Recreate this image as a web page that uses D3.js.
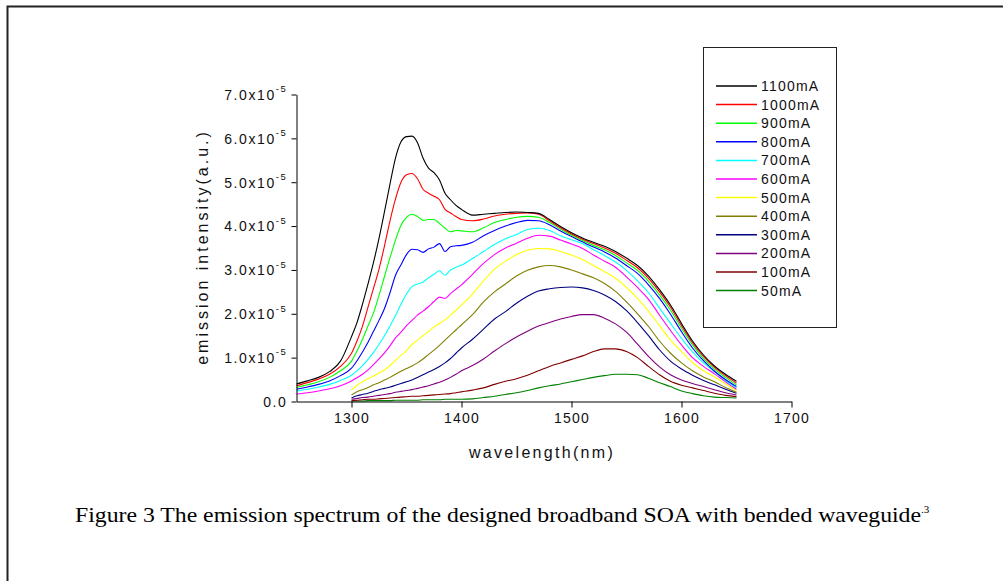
<!DOCTYPE html>
<html><head><meta charset="utf-8">
<script src="https://cdn.jsdelivr.net/npm/d3@7"></script>
<style>body{margin:0;background:#fff}svg{display:block}</style>
</head><body><svg id="c" width="1003" height="581"></svg>
<script>
// wavelength grid (nm)
const wavelengths = [1250,1260,1270,1280,1290,
 1300,1305,1310,1315,1320,1325,1330,1335,1340,1345,1350,1355,1360,1365,1370,1375,1380,1385,1390,1395,1400,
 1410,1420,1430,1440,1450,1460,1470,1480,1490,1500,1510,1520,1530,1540,1550,1560,1570,1580,1590,1600,1610,1620,1630,1640,1650];
const UNIT = 1e-5; // values below are in units of 1e-5 a.u.
const currents = ["1100mA","1000mA","900mA","800mA","700mA","600mA","500mA","400mA","300mA","200mA","100mA","50mA"];
const colors = ["#000000","#ff0000","#00ff00","#0000ff","#00ffff","#ff00ff","#ffff00","#808000","#000080","#800080","#800000","#008000"];
const yTicks = [0,1,2,3,4,5,6,7];
const xTicks = [1300,1400,1500,1600,1700];

const s1100 = [0.40,0.47,0.55,0.68,0.92,
 1.48,1.80,2.22,2.68,3.17,3.72,4.33,4.96,5.55,5.92,6.04,6.05,5.90,5.55,5.32,5.22,5.05,4.75,4.60,4.47,4.38,
 4.25,4.27,4.29,4.31,4.32,4.31,4.29,4.15,3.99,3.85,3.73,3.63,3.54,3.42,3.27,3.10,2.86,2.55,2.20,1.78,1.38,1.06,0.81,0.62,0.46];
const s1000 = [0.36,0.43,0.51,0.62,0.80,
 1.10,1.38,1.72,2.15,2.58,3.02,3.55,4.12,4.62,5.00,5.17,5.20,5.08,4.84,4.75,4.68,4.60,4.38,4.30,4.22,4.15,
 4.12,4.16,4.23,4.27,4.29,4.30,4.27,4.12,3.96,3.82,3.70,3.60,3.50,3.38,3.22,3.05,2.81,2.50,2.15,1.73,1.34,1.03,0.78,0.59,0.42];
const s900 = [0.32,0.38,0.45,0.55,0.70,
 0.92,1.15,1.42,1.72,2.02,2.42,2.85,3.28,3.68,4.02,4.20,4.27,4.22,4.13,4.15,4.15,4.06,3.95,3.87,3.90,3.89,
 3.87,3.96,4.08,4.15,4.20,4.22,4.20,4.08,3.93,3.79,3.67,3.56,3.46,3.33,3.16,2.99,2.74,2.43,2.08,1.67,1.29,0.98,0.74,0.55,0.38];
const s800 = [0.28,0.33,0.39,0.47,0.59,
 0.76,0.93,1.13,1.35,1.60,1.85,2.12,2.48,2.88,3.12,3.35,3.47,3.46,3.40,3.48,3.52,3.60,3.42,3.53,3.55,3.56,
 3.63,3.78,3.90,4.00,4.08,4.13,4.12,4.03,3.89,3.76,3.64,3.52,3.41,3.27,3.10,2.92,2.66,2.35,1.99,1.59,1.22,0.93,0.69,0.50,0.34];
const s700 = [0.24,0.28,0.33,0.39,0.48,
 0.60,0.70,0.82,0.96,1.12,1.30,1.50,1.72,1.96,2.22,2.45,2.62,2.68,2.72,2.82,2.90,2.98,2.88,3.00,3.06,3.11,
 3.26,3.42,3.58,3.71,3.81,3.92,3.95,3.90,3.78,3.69,3.60,3.46,3.33,3.18,2.99,2.75,2.48,2.13,1.78,1.44,1.13,0.88,0.68,0.48,0.31];
const s600 = [0.17,0.20,0.24,0.29,0.36,
 0.47,0.54,0.62,0.72,0.84,0.97,1.11,1.27,1.45,1.58,1.73,1.85,1.97,2.06,2.16,2.28,2.38,2.35,2.46,2.56,2.66,
 2.90,3.15,3.35,3.50,3.61,3.72,3.79,3.77,3.68,3.59,3.49,3.34,3.20,3.06,2.84,2.60,2.33,1.97,1.62,1.29,1.00,0.80,0.63,0.45,0.28];
const s500 = [null,null,null,null,null,
 0.26,0.37,0.45,0.52,0.58,0.65,0.72,0.82,0.94,1.05,1.16,1.30,1.40,1.50,1.60,1.70,1.78,1.86,1.97,2.08,2.20,
 2.45,2.75,3.02,3.20,3.35,3.45,3.49,3.48,3.42,3.34,3.24,3.10,2.96,2.81,2.60,2.35,2.06,1.73,1.40,1.14,0.89,0.70,0.56,0.40,0.25];
const s400 = [null,null,null,null,null,
 0.15,0.22,0.27,0.32,0.38,0.43,0.49,0.55,0.62,0.69,0.75,0.81,0.88,0.97,1.07,1.17,1.28,1.40,1.52,1.63,1.75,
 1.98,2.27,2.50,2.68,2.86,2.99,3.07,3.10,3.07,3.00,2.91,2.82,2.69,2.51,2.27,2.00,1.71,1.38,1.10,0.88,0.70,0.56,0.45,0.32,0.21];
const s300 = [null,null,null,null,null,
 0.08,0.13,0.16,0.19,0.23,0.27,0.30,0.33,0.37,0.41,0.45,0.49,0.55,0.61,0.67,0.73,0.80,0.88,0.98,1.10,1.22,
 1.42,1.65,1.88,2.05,2.24,2.40,2.52,2.57,2.60,2.61,2.59,2.53,2.43,2.28,2.07,1.80,1.50,1.18,0.92,0.74,0.60,0.48,0.38,0.28,0.19];
const s200 = [null,null,null,null,null,
 0.05,0.07,0.09,0.10,0.12,0.14,0.16,0.18,0.21,0.23,0.25,0.27,0.30,0.33,0.36,0.40,0.44,0.49,0.55,0.62,0.70,
 0.82,0.97,1.15,1.32,1.47,1.60,1.72,1.80,1.88,1.94,1.98,1.98,1.90,1.77,1.58,1.31,1.03,0.79,0.61,0.49,0.41,0.34,0.27,0.20,0.15];
const s100 = [null,null,null,null,null,
 0.02,0.03,0.04,0.05,0.05,0.06,0.07,0.08,0.09,0.10,0.11,0.12,0.12,0.13,0.14,0.15,0.16,0.17,0.18,0.20,0.22,
 0.26,0.31,0.39,0.46,0.52,0.60,0.70,0.80,0.88,0.96,1.04,1.14,1.20,1.20,1.14,1.00,0.80,0.61,0.46,0.37,0.31,0.25,0.19,0.14,0.11];
const s50 = [null,null,null,null,null,
 0.01,0.01,0.01,0.02,0.02,0.02,0.02,0.02,0.03,0.03,0.03,0.03,0.03,0.04,0.04,0.04,0.04,0.05,0.05,0.05,0.05,
 0.06,0.09,0.12,0.16,0.20,0.25,0.31,0.36,0.40,0.45,0.50,0.55,0.59,0.62,0.62,0.61,0.53,0.43,0.34,0.24,0.18,0.13,0.10,0.09,0.08];

const seriesValues = [s1100,s1000,s900,s800,s700,s600,s500,s400,s300,s200,s100,s50];
const series = currents.map((name,i)=>({name, color:colors[i],
  points: wavelengths.map((w,j)=>({w, v: seriesValues[i][j]==null?null:seriesValues[i][j]*UNIT}))}));

const svg = d3.select("#c");
const SANS = "'Liberation Sans', Arial, sans-serif";
const SERIF = "'Liberation Serif', 'Times New Roman', serif";

// outer frame
svg.append("rect").attr("x",7.5).attr("y",6.5).attr("width",1100).attr("height",700)
  .attr("fill","none").attr("stroke","#222").attr("stroke-width",2);

const x = d3.scaleLinear().domain([1250,1700]).range([296.5,791.5]);
const y = d3.scaleLinear().domain([0,7*UNIT]).range([401.5,94.5]);

// lines
const line = d3.line().defined(d=>d.v!=null).x(d=>x(d.w)).y(d=>y(d.v)).curve(d3.curveMonotoneX);
svg.append("g").selectAll("path").data(series.slice().reverse()).join("path")
  .attr("d",d=>line(d.points)).attr("fill","none").attr("stroke",d=>d.color).attr("stroke-width",1.1);

// x axis
const gx = svg.append("g").attr("transform",`translate(0,${y(0)})`);
gx.call(d3.axisBottom(x).tickValues(d3.range(1250,1701,50)).tickSize(4).tickSizeOuter(0).tickFormat(""));
gx.call(d3.axisBottom(x).tickValues(xTicks).tickSize(6).tickSizeOuter(0).tickPadding(6).tickFormat(d=>d));
gx.selectAll("path,line").attr("stroke","#000");
gx.selectAll("text").attr("font-family",SANS).attr("font-size",14).attr("letter-spacing",1.2).attr("fill","#111");

// y axis
const gy = svg.append("g").attr("transform",`translate(${x(1250)},0)`);
gy.call(d3.axisLeft(y).tickValues(d3.range(0,7.01,0.5).map(v=>v*UNIT)).tickSize(3).tickSizeOuter(0).tickFormat(""));
gy.call(d3.axisLeft(y).tickValues(yTicks.map(v=>v*UNIT)).tickSize(5).tickSizeOuter(0).tickPadding(4).tickFormat(""));
gy.selectAll("path,line").attr("stroke","#000");
gy.selectAll(".tick").each(function(d){
  const t = d3.select(this).select("text");
  const v = Math.round(d/UNIT);
  t.attr("font-family",SANS).attr("font-size",14).attr("letter-spacing",1.6).attr("fill","#111").attr("dy","0.35em");
  if(v===0){ t.text("0.0"); }
  else {
    t.text(null);
    t.append("tspan").text(v.toFixed(1)+"x10");
    t.append("tspan").attr("font-size",9.5).attr("dy","-0.8em").text("-5");
  }
});

// axis titles
svg.append("text").attr("x",542).attr("y",458).attr("text-anchor","middle")
  .attr("font-family",SANS).attr("font-size",16).attr("letter-spacing",2.3).attr("fill","#111").text("wavelength(nm)");
svg.append("text").attr("transform","translate(208,247) rotate(-90)").attr("text-anchor","middle")
  .attr("font-family",SANS).attr("font-size",16).attr("letter-spacing",3).attr("fill","#111").text("emission intensity(a.u.)");

// legend
const lg = svg.append("g");
lg.append("rect").attr("x",703.5).attr("y",47.5).attr("width",133).attr("height",280)
  .attr("fill","#fff").attr("stroke","#222").attr("stroke-width",1);
series.forEach((s,i)=>{
  const yy = 86 + i*18.6;
  lg.append("line").attr("x1",716).attr("x2",757).attr("y1",yy).attr("y2",yy).attr("stroke",s.color).attr("stroke-width",1.5);
  lg.append("text").attr("x",761).attr("y",yy).attr("dy","0.36em").attr("font-family",SANS).attr("font-size",14)
    .attr("letter-spacing",1.2).attr("fill","#111").text(s.name);
});

// caption
const cap = svg.append("text").attr("x",75).attr("y",522).attr("font-family",SERIF).attr("font-size",22).attr("fill","#000");
cap.append("tspan").attr("textLength",846).attr("lengthAdjust","spacingAndGlyphs")
  .text("Figure 3 The emission spectrum of the designed broadband SOA with bended waveguide");
cap.append("tspan").attr("font-size",11).attr("dy","-0.8em").text(".3");
</script></body></html>
